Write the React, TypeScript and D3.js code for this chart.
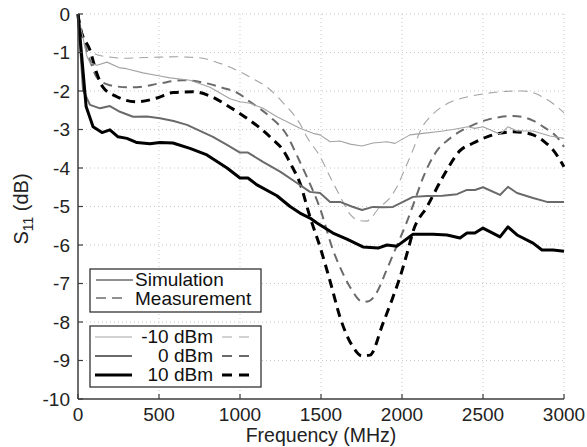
import React from "react";
import * as d3 from "d3";

// ---- Data (frequency in MHz, S11 in dB) ----
const simLowF = [0, 25, 55, 74, 117, 179, 259, 300, 401, 506, 568, 691, 815, 938, 1000, 1062, 1142, 1228, 1290, 1370, 1451, 1494, 1556, 1617, 1680, 1753, 1821, 1907, 1957, 2049, 2130, 2230, 2315, 2407, 2450, 2500, 2605, 2654, 2710, 2809, 2914, 3000];
const simLowV = [0, -0.5, -1.1, -1.27, -1.33, -1.25, -1.4, -1.42, -1.53, -1.61, -1.66, -1.72, -1.9, -2.2, -2.28, -2.32, -2.45, -2.67, -2.8, -2.97, -3.1, -3.14, -3.32, -3.3, -3.38, -3.43, -3.35, -3.32, -3.36, -3.14, -3.1, -3.05, -3.0, -2.93, -2.97, -2.93, -3.12, -2.93, -3.04, -3.04, -3.17, -3.23];

const simMidF = [0, 31, 74, 136, 197, 259, 340, 426, 506, 590, 673, 833, 920, 1000, 1049, 1142, 1250, 1352, 1432, 1494, 1556, 1617, 1690, 1753, 1821, 1880, 1944, 2068, 2154, 2250, 2340, 2401, 2450, 2500, 2605, 2654, 2710, 2809, 2895, 3000];
const simMidV = [0, -1.97, -2.36, -2.45, -2.39, -2.54, -2.67, -2.66, -2.71, -2.78, -2.88, -3.19, -3.4, -3.6, -3.6, -3.84, -4.1, -4.39, -4.62, -4.65, -4.88, -4.88, -5.0, -5.09, -5.01, -5.02, -5.01, -4.75, -4.73, -4.72, -4.68, -4.57, -4.57, -4.5, -4.7, -4.49, -4.65, -4.78, -4.88, -4.88];

const simHighF = [0, 50, 93, 148, 197, 247, 302, 364, 444, 506, 586, 691, 796, 920, 1000, 1049, 1105, 1228, 1309, 1370, 1432, 1475, 1574, 1660, 1759, 1852, 1907, 1969, 2068, 2191, 2278, 2358, 2401, 2450, 2500, 2605, 2654, 2710, 2809, 2864, 2932, 3000];
const simHighV = [0, -2.4, -2.93, -3.08, -3.01, -3.19, -3.23, -3.34, -3.37, -3.34, -3.35, -3.49, -3.66, -4.0, -4.26, -4.26, -4.44, -4.72, -5.0, -5.17, -5.3, -5.43, -5.69, -5.85, -6.05, -6.08, -6.0, -6.03, -5.72, -5.72, -5.74, -5.82, -5.69, -5.69, -5.56, -5.79, -5.53, -5.74, -5.95, -6.13, -6.13, -6.16];

const measLowF = [0, 25, 43, 74, 117, 200, 278, 364, 506, 611, 673, 772, 833, 920, 1000, 1080, 1166, 1265, 1370, 1414, 1494, 1556, 1620, 1679, 1741, 1780, 1864, 1920, 1969, 2020, 2068, 2111, 2191, 2270, 2358, 2440, 2525, 2640, 2747, 2820, 2870, 2940, 3000];
const measLowV = [0, -0.5, -0.8, -0.94, -1.06, -1.12, -1.15, -1.14, -1.12, -1.11, -1.12, -1.15, -1.22, -1.35, -1.5, -1.68, -1.9, -2.3, -2.85, -3.2, -3.7, -4.23, -4.75, -5.2, -5.37, -5.38, -5.01, -4.8, -4.49, -4.0, -3.53, -3.05, -2.6, -2.35, -2.2, -2.12, -2.06, -2.01, -2.0, -2.06, -2.16, -2.35, -2.57];

const measMidF = [0, 31, 74, 117, 197, 300, 364, 506, 648, 772, 895, 981, 1062, 1185, 1290, 1352, 1420, 1494, 1574, 1620, 1679, 1759, 1800, 1846, 1900, 1960, 2030, 2080, 2130, 2216, 2290, 2358, 2440, 2525, 2600, 2685, 2750, 2809, 2880, 2957, 3000];
const measMidV = [0, -0.6, -1.2, -1.65, -1.85, -1.9, -1.9, -1.8, -1.72, -1.78, -1.92, -2.04, -2.28, -2.67, -3.15, -3.68, -4.3, -5.05, -6.13, -6.6, -7.09, -7.48, -7.45, -7.22, -6.7, -6.1, -5.4, -4.83, -4.25, -3.55, -3.25, -3.05, -2.88, -2.75, -2.68, -2.65, -2.68, -2.77, -2.95, -3.2, -3.45];

const measHighF = [0, 12, 74, 117, 154, 240, 364, 488, 586, 710, 815, 938, 1040, 1123, 1200, 1265, 1320, 1370, 1432, 1494, 1560, 1617, 1698, 1753, 1802, 1883, 1940, 1988, 2037, 2068, 2154, 2253, 2358, 2440, 2525, 2600, 2685, 2750, 2809, 2880, 2932, 3000];
const measHighV = [0, -0.33, -0.94, -1.55, -1.9, -2.15, -2.28, -2.18, -2.04, -2.02, -2.13, -2.42, -2.7, -2.96, -3.25, -3.53, -3.95, -4.39, -5.27, -6.05, -7.0, -7.87, -8.65, -8.88, -8.86, -8.03, -7.4, -6.83, -6.13, -5.65, -5.01, -4.23, -3.55, -3.35, -3.19, -3.1, -3.06, -3.08, -3.14, -3.32, -3.53, -3.97];

const xTicks = [0, 500, 1000, 1500, 2000, 2500, 3000];
const yTicks = [0, -1, -2, -3, -4, -5, -6, -7, -8, -9, -10];
const powerLabels = ["-10 dBm", "0 dBm", "10 dBm"];

const FONT = "'Liberation Sans', Arial, Helvetica, sans-serif";
const colors = ["#a3a3a3", "#6a6a6a", "#000000"];
const widths = [1.1, 2, 3];

export default function App() {
  const W = 587, H = 447;
  const x = d3.scaleLinear().domain([0, 3000]).range([78, 564]);
  const y = d3.scaleLinear().domain([-10, 0]).range([399, 14]);

  const zip = (f: number[], v: number[]) => f.map((fi, i) => [fi, v[i]] as [number, number]);
  const simLine = d3.line<[number, number]>().x(d => x(d[0])).y(d => y(d[1]));
  const measLine = d3.line<[number, number]>().x(d => x(d[0])).y(d => y(d[1])).curve(d3.curveMonotoneX);

  const sims = [zip(simLowF, simLowV), zip(simMidF, simMidV), zip(simHighF, simHighV)];
  const meas = [zip(measLowF, measLowV), zip(measMidF, measMidV), zip(measHighF, measHighV)];

  const axisColor = "#3c3c3c";
  const gridColor = "#c8c8c8";
  const [x0, x1] = x.range();
  const [y0, y1] = y.range();

  return (
    <svg width={W} height={H} style={{ position: "absolute", left: 0, top: 0, background: "#fff" }} fontFamily={FONT}>
      <rect x={0} y={0} width={W} height={H} fill="#fff" />
      {/* grid */}
      {xTicks.filter(t => t !== 0).map(t => (
        <line key={"gx" + t} x1={x(t)} x2={x(t)} y1={y1} y2={y0} stroke={gridColor} strokeWidth={1} strokeDasharray="1,3" />
      ))}
      {yTicks.filter(t => t !== -10).map(t => (
        <line key={"gy" + t} x1={x0} x2={x1} y1={y(t)} y2={y(t)} stroke={gridColor} strokeWidth={1} strokeDasharray="1,3" />
      ))}

      {/* data */}
      {meas.map((d, i) => (
        <path key={"m" + i} d={measLine(d) || ""} fill="none" stroke={colors[i]} strokeWidth={widths[i]} strokeDasharray="9,6" />
      ))}
      {sims.map((d, i) => (
        <path key={"s" + i} d={simLine(d) || ""} fill="none" stroke={colors[i]} strokeWidth={widths[i]} strokeLinejoin="round" />
      ))}

      {/* axes */}
      <line x1={x0} x2={x1} y1={y0} y2={y0} stroke={axisColor} strokeWidth={1.5} />
      <line x1={x0} x2={x0} y1={y0} y2={y1} stroke={axisColor} strokeWidth={1.5} />
      {xTicks.map(t => (
        <g key={"xt" + t}>
          <line x1={x(t)} x2={x(t)} y1={y0} y2={y0 - 5} stroke={axisColor} strokeWidth={1.2} />
          <text x={x(t)} y={421} textAnchor="middle" fontSize={19} fill="#222">{t}</text>
        </g>
      ))}
      {yTicks.map(t => (
        <g key={"yt" + t}>
          <line x1={x0} x2={x0 + 5} y1={y(t)} y2={y(t)} stroke={axisColor} strokeWidth={1.2} />
          <text x={70} y={y(t)} dy="0.36em" textAnchor="end" fontSize={19} fill="#222">{t}</text>
        </g>
      ))}

      {/* axis labels */}
      <text x={321} y={442} textAnchor="middle" fontSize={19.5} fill="#222">Frequency (MHz)</text>
      <text transform="translate(28,209) rotate(-90)" textAnchor="middle" fontSize={20} fill="#222">
        S<tspan fontSize={14} dy={5}>11</tspan><tspan dy={-5}> (dB)</tspan>
      </text>

      {/* legend 1 */}
      <rect x={90} y={269} width={171} height={43} fill="#fff" stroke="#333" strokeWidth={1.3} />
      <line x1={96} x2={133} y1={280} y2={280} stroke="#222" strokeWidth={1} />
      <text x={135} y={286} fontSize={19} fill="#111">Simulation</text>
      <line x1={96} x2={128} y1={298} y2={298} stroke="#222" strokeWidth={1} strokeDasharray="10,6" />
      <text x={135} y={305} fontSize={19} fill="#111">Measurement</text>

      {/* legend 2 */}
      <rect x={90} y={326} width={171} height={61} fill="#fff" stroke="#333" strokeWidth={1.3} />
      {powerLabels.map((lab, i) => {
        const ly = 337 + i * 19;
        return (
          <g key={"lg" + i}>
            <line x1={95} x2={132} y1={ly} y2={ly} stroke={colors[i]} strokeWidth={widths[i]} />
            <text x={213} y={ly + 6} textAnchor="end" fontSize={19} fill="#111">{lab}</text>
            <line x1={222} x2={251} y1={ly} y2={ly} stroke={colors[i]} strokeWidth={widths[i]} strokeDasharray="10,7" />
          </g>
        );
      })}
    </svg>
  );
}
